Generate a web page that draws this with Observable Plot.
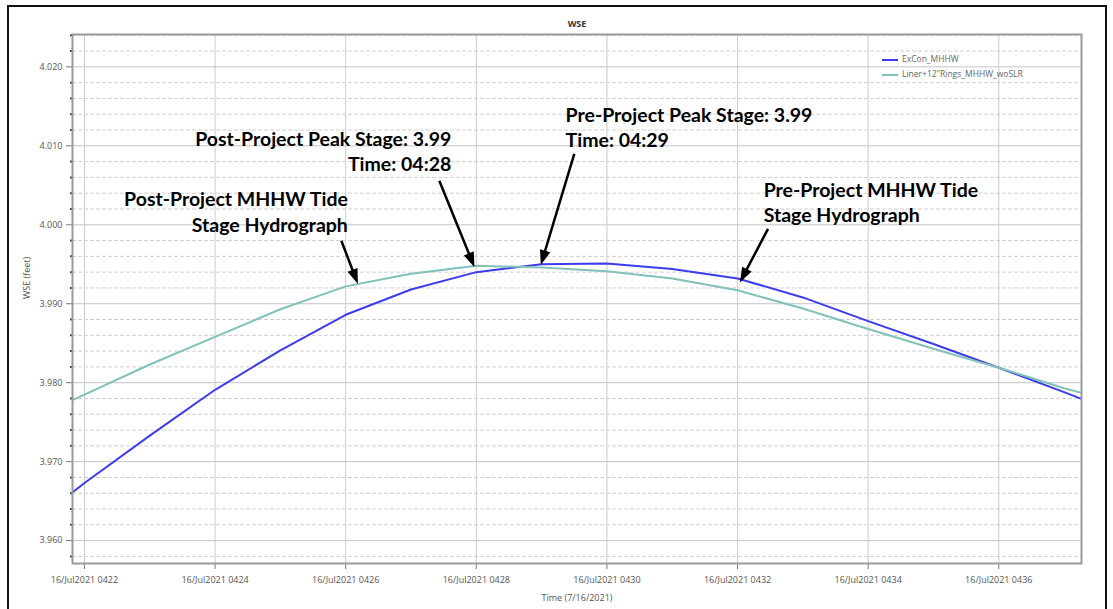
<!DOCTYPE html>
<html><head><meta charset="utf-8">
<script src="https://cdn.jsdelivr.net/npm/d3@7"></script>
<script src="https://cdn.jsdelivr.net/npm/@observablehq/plot@0.6"></script>
<style>
body{margin:0;background:#fff;}
#wrap{position:relative;width:1113px;height:609px;overflow:hidden;background:#fff;}
#frame{position:absolute;left:7px;top:5px;width:1100px;height:700px;border:2px solid #111;box-sizing:border-box;pointer-events:none;}
#chart{position:absolute;left:0;top:0;}
#legend{position:absolute;left:882px;top:51px;font:8.5px "Open Sans",sans-serif;color:#666;line-height:15px;}
#legend .sw{display:inline-block;width:16px;height:2px;vertical-align:middle;margin-right:4px;}
</style></head><body>
<div id="wrap"><div id="chart"></div><div id="frame"></div><div id="legend"></div></div>
<script>
// ---- data ----
const day = "2021-07-16";
const minutes = ["04:21","04:22","04:23","04:24","04:25","04:26","04:27","04:28","04:29","04:30","04:31","04:32","04:33","04:34","04:35","04:36","04:37","04:38"];
const exConMHHW = [3.9608,3.9673,3.9733,3.9791,3.9841,3.9886,3.9918,3.9940,3.9950,3.9951,3.9944,3.9932,3.9908,3.9878,3.9849,3.9819,3.9788,3.9756];
const linerRingsMHHW = [3.9747,3.9785,3.9823,3.9858,3.9893,3.9922,3.9938,3.9948,3.9946,3.9941,3.9932,3.9917,3.9894,3.9868,3.9843,3.9819,3.9793,3.9771];
const seriesNames = ["ExCon_MHHW", "Liner+12\"Rings_MHHW_woSLR"];
const seriesColors = ["#3c3cee", "#80c2b9"];
const xTickLabels = ["04:22","04:24","04:26","04:28","04:30","04:32","04:34","04:36"];
const xDomain = ["04:21:49","04:37:16"];
const yMajorTicks = [3.960,3.970,3.980,3.990,4.000,4.010,4.020];
const yMinorTicks = [3.958,3.962,3.964,3.966,3.968,3.972,3.974,3.976,3.978,3.982,3.984,3.986,3.988,3.992,3.994,3.996,3.998,4.002,4.004,4.006,4.008,4.012,4.014,4.016,4.018,4.022,4.024];
const yDomain = [3.9571, 4.0241];
const annoLabels = ["Post-Project Peak Stage: 3.99\nTime: 04:28","Post-Project MHHW Tide\nStage Hydrograph","Pre-Project Peak Stage: 3.99\nTime: 04:29","Pre-Project MHHW Tide\nStage Hydrograph"];
const annoTime = ["04:27:37","04:26:02","04:29:22","04:32:24"];
const annoValue = [4.00943,4.00177,4.01247,4.00297];
const annoAlign = ["end","end","start","start"];
const arrowFromTime = ["04:27:26","04:25:56","04:29:30","04:32:28"];
const arrowFromValue = [4.00557,3.99797,4.00899,3.99949];
const arrowToTime = ["04:27:56","04:26:09","04:29:01","04:32:05"];
const arrowToValue = [3.99540,3.99330,3.99570,3.99345];

// ---- build ----
const parseT = s => d3.timeParse("%Y-%m-%d %H:%M:%S")(day + " " + (s.length === 5 ? s + ":00" : s));
const rows = [];
[exConMHHW, linerRingsMHHW].forEach((vals, i) =>
  vals.forEach((v, j) => rows.push({series: seriesNames[i], time: parseT(minutes[j]), value: v})));
const xTicks = xTickLabels.map(parseT);
const annos = annoLabels.map((t, i) => ({text: t, time: parseT(annoTime[i]), value: annoValue[i], align: annoAlign[i]}));
const arrows = arrowFromTime.map((t, i) => ({x1: parseT(t), y1: arrowFromValue[i], x2: parseT(arrowToTime[i]), y2: arrowToValue[i]}));
const fmtTime = d3.timeFormat("%H%M");
const tickFont = {fontSize: 9, fill: "#555"};
const annoStyle = {x: "time", y: "value", text: "text", lineAnchor: "middle", lineHeight: 1.3,
  fontSize: 19.5, fontWeight: "bold", fontFamily: "Lato, sans-serif", fill: "#000", ariaLabel: "anno"};

const plot = Plot.plot({
  width: 1113, height: 609,
  marginLeft: 72, marginRight: 32, marginTop: 34, marginBottom: 46,
  style: {fontFamily: "'Open Sans', sans-serif", background: "transparent"},
  x: {type: "time", domain: xDomain.map(parseT)},
  y: {domain: yDomain},
  color: {domain: seriesNames, range: seriesColors},
  marks: [
    Plot.gridY(yMinorTicks, {stroke: "#d0d0d0", strokeOpacity: 1, strokeDasharray: "4,2"}),
    Plot.gridY(yMajorTicks, {stroke: "#c4c4c4", strokeOpacity: 1}),
    Plot.gridX(xTicks, {stroke: "#cccccc", strokeOpacity: 1}),
    Plot.axisY(yMinorTicks, {tickSize: 2, tickFormat: () => "", stroke: "#444", strokeWidth: 2}),
    Plot.axisY(yMajorTicks, {tickSize: 6, tickPadding: 4, tickFormat: d3.format(".3f"), label: null, stroke: "#777", ...tickFont}),
    Plot.axisX(xTicks, {tickSize: 6, tickPadding: 7, tickFormat: d => "16/Jul2021 " + fmtTime(d), label: null, stroke: "#777", ...tickFont}),
    Plot.text(["WSE"], {frameAnchor: "top", dy: -14, fontSize: 9, fontWeight: "bold", fill: "#333"}),
    Plot.text(["WSE (feet)"], {frameAnchor: "left", dx: -45, rotate: -90, fontSize: 9, fill: "#555"}),
    Plot.text(["Time (7/16/2021)"], {frameAnchor: "bottom", dy: 37, fontSize: 9, fill: "#555"}),
    Plot.line(rows, {x: "time", y: "value", z: "series", stroke: "series", strokeWidth: 2, clip: true}),
    Plot.frame({stroke: "#9a9a9a", strokeWidth: 2}),
    Plot.text(annos.filter(d => d.align === "end"), {...annoStyle, textAnchor: "end"}),
    Plot.text(annos.filter(d => d.align === "start"), {...annoStyle, textAnchor: "start"}),
    Plot.link(arrows, {x1: "x1", y1: "y1", x2: "x2", y2: "y2", stroke: "#000", strokeWidth: 2.5, markerEnd: "arrow"})
  ]
});
document.getElementById("chart").appendChild(plot);

// filled arrow heads
d3.select(plot).selectAll("marker").attr("overflow", "visible")
  .selectAll("path").attr("d", "M-5,-3.2L4,0L-5,3.2Z").attr("fill", "#000").attr("stroke", "none");

// white boxes behind annotation texts
const ns = "http://www.w3.org/2000/svg";
d3.select(plot).selectAll("g[aria-label='anno'] text").each(function() {
  const b = this.getBBox();
  const r = document.createElementNS(ns, "rect");
  r.setAttribute("x", b.x - 9); r.setAttribute("y", b.y - 4);
  r.setAttribute("width", b.width + 18); r.setAttribute("height", b.height + 8);
  r.setAttribute("fill", "#fff");
  this.parentNode.insertBefore(r, this);
});

// legend
const lg = document.getElementById("legend");
seriesNames.forEach((n, i) => {
  const row = document.createElement("div");
  row.innerHTML = `<span class="sw" style="background:${seriesColors[i]}"></span>`;
  row.appendChild(document.createTextNode(n));
  lg.appendChild(row);
});
</script>
</body></html>
